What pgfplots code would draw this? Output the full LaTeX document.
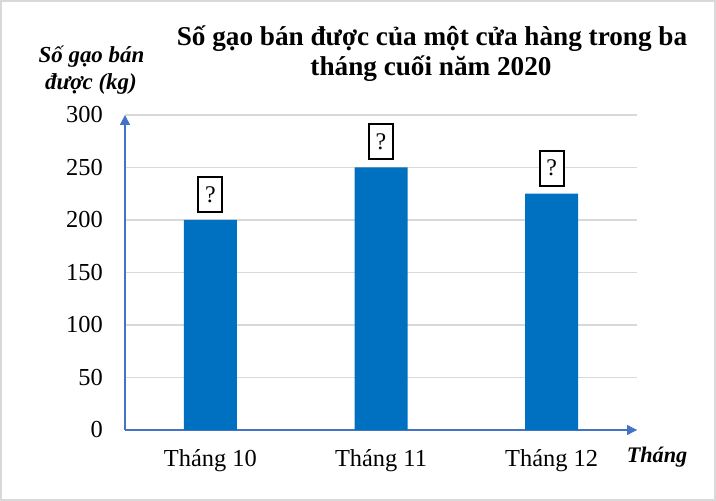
\documentclass[border=0pt]{standalone}
\usepackage{fontspec}
\setmainfont{Liberation Serif}
\usepackage{pgfplots}
\pgfplotsset{compat=1.18}
\usetikzlibrary{arrows.meta}

\definecolor{barblue}{HTML}{0070C0}
\definecolor{axisblue}{HTML}{4472C4}
\definecolor{gridgray}{HTML}{D9D9D9}

\begin{document}
\begin{tikzpicture}
  \useasboundingbox (0,0) rectangle (716bp,501bp);
  \draw[gridgray, line width=2bp] (1bp,1bp) rectangle (715bp,500bp);

  \begin{axis}[
    at={(125bp,71bp)}, anchor=south west,
    scale only axis,
    width=512bp, height=315bp,
    xmin=-0.5, xmax=2.5,
    ymin=0, ymax=300,
    ytick={0,50,100,150,200,250,300},
    xtick={0,1,2},
    xticklabels={Tháng 10, Tháng 11, Tháng 12},
    major tick length=0pt,
    axis x line=bottom, axis y line=left,
    axis line style={draw=axisblue, line width=1.5bp},
    x axis line style={-{Triangle[width=10bp,length=10bp]}},
    y axis line style={-{Triangle[width=10bp,length=10bp]}},
    ymajorgrids,
    grid style={draw=gridgray, line width=1.5bp},
    /pgf/number format/assume math mode=true,
    ticklabel style={font=\fontsize{24.5}{24.5}\selectfont},
    yticklabel style={anchor=east, inner sep=0pt, xshift=-22bp},
    xticklabel style={anchor=base, inner sep=0pt, yshift=-37bp},
    ybar, bar width=53bp, bar shift=0pt,
    nodes near coords={?},
    nodes near coords style={draw=black, line width=2bp, fill=white,
      minimum width=24bp, minimum height=35bp, inner sep=0pt,
      anchor=south, yshift=7bp, font=\fontsize{24}{24}\selectfont, text=black},
  ]
    \addplot[fill=barblue, draw=none] coordinates {(0,200) (1,250) (2,225)};
  \end{axis}

  \node[anchor=base, font=\bfseries\fontsize{27.3}{27.3}\selectfont] at (432bp,455bp)
    {Số gạo bán được của một cửa hàng trong ba};
  \node[anchor=base, font=\bfseries\fontsize{27.3}{27.3}\selectfont] at (431bp,425bp)
    {tháng cuối năm 2020};
  \node[anchor=base, font=\bfseries\itshape\fontsize{23}{23}\selectfont] at (91.5bp,438bp)
    {Số gạo bán};
  \node[anchor=base, font=\bfseries\itshape\fontsize{23}{23}\selectfont] at (91bp,411bp)
    {được (kg)};
  \node[anchor=base, font=\bfseries\itshape\fontsize{22.3}{22.3}\selectfont] at (657bp,39bp)
    {Tháng};
\end{tikzpicture}
\end{document}
